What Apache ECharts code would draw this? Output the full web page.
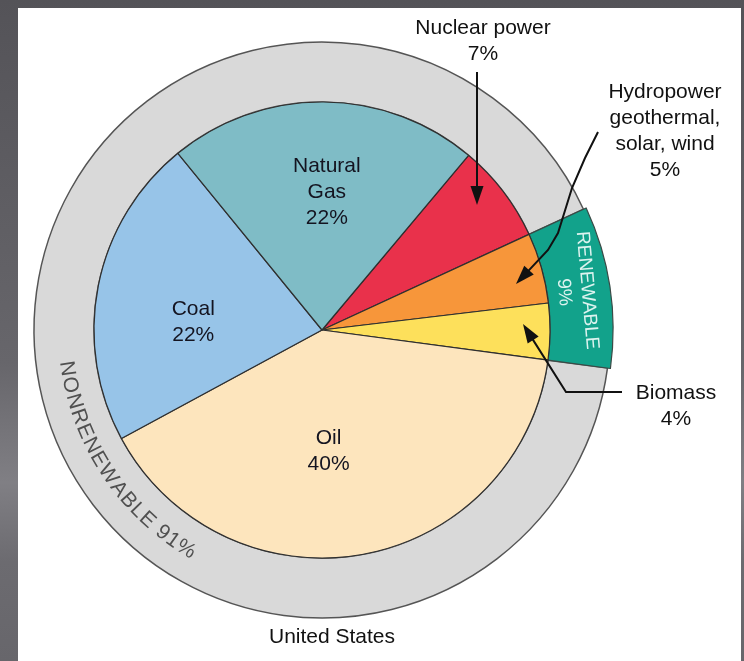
<!DOCTYPE html>
<html>
<head>
<meta charset="utf-8">
<script src="https://cdn.jsdelivr.net/npm/echarts@6/dist/echarts.min.js"></script>
<style>
html,body{margin:0;padding:0;width:744px;height:661px;overflow:hidden;}
body{background:linear-gradient(to bottom,#545358 0%,#67666b 55%,#807f84 73%,#6c6b70 85%,#67666b 100%);}
#chart{position:absolute;left:18px;top:8px;width:723px;height:653px;background:#ffffff;}
</style>
</head>
<body>
<div id="chart"></div>
<script>
// ---------------- data ----------------
const categories = ['Nuclear power', 'Hydropower\ngeothermal,\nsolar, wind', 'Biomass', 'Oil', 'Coal', 'Natural\nGas'];
const values = [7, 5, 4, 40, 22, 22];
const groupNames = ['RENEWABLE', 'NONRENEWABLE'];
const groupValues = [9, 91];
const chartTitle = 'United States';

// ---------------- styles / layout ----------------
const sliceColors = ['#e9314b', '#f7963a', '#fde05b', '#fde5bd', '#97c4e8', '#7fbcc6'];
const insideLabel = [false, false, false, true, true, true];
const labelPadX = [null, null, null, [0, 29, 0, 0], [0, 28, 0, 0], [0, 0, 0, 8]];
const spacerTop = [0, 0, 0, 12, 30, 0];
const spacerBottom = [0, 0, 0, 0, 0, 42];
const OX = 18, OY = 8;            // chart div offset in page
const CX = 322, CY = 330;         // pie centre (page coords)
const R_PIE = 228, R_RING = 288, R_REN = 291;
const START = 50;
const FONT = '"Liberation Sans", Arial, Helvetica, sans-serif';
const TXT = '#111111';

const chart = echarts.init(document.getElementById('chart'), null, {renderer: 'canvas'});

const total = values.reduce((a, b) => a + b, 0);
const ringStart = START - values[0] / total * 360; // renewable begins after nuclear

const pieData = categories.map((name, i) => {
  if (!insideLabel[i]) {
    return {name: name, value: values[i], itemStyle: {color: sliceColors[i]}, label: {show: false}};
  }
  const rich = {};
  let pre = '', post = '';
  if (spacerTop[i]) { rich.t = {lineHeight: spacerTop[i], fontSize: 1}; pre = '{t| }\n'; }
  if (spacerBottom[i]) { rich.b = {lineHeight: spacerBottom[i], fontSize: 1}; post = '\n{b| }'; }
  return {
    name: name, value: values[i], itemStyle: {color: sliceColors[i]},
    label: {show: true, padding: labelPadX[i], rich: rich,
      formatter: pre + name + '\n' + values[i] + '%' + post}
  };
});

const transparent = {color: 'rgba(0,0,0,0)', borderWidth: 0};

// ---------------- annotations ----------------
const px = (x) => x - OX, py = (y) => y - OY;
const graphics = [];
const GZ = 50;

function arrow(points) {
  const pts = points.map(p => [px(p[0]), py(p[1])]);
  const T = pts[pts.length - 1], P = pts[pts.length - 2];
  const dx = T[0] - P[0], dy = T[1] - P[1];
  const len = Math.hypot(dx, dy);
  const ux = dx / len, uy = dy / len;
  const L = 19, W = 6.5;
  const bx = T[0] - ux * L, by = T[1] - uy * L;
  const linePts = pts.slice(0, -1).concat([[bx + ux * 2, by + uy * 2]]);
  graphics.push({type: 'polyline', silent: true, z: GZ, shape: {points: linePts},
    style: {stroke: '#111', lineWidth: 2, fill: null}});
  graphics.push({type: 'polygon', silent: true, z: GZ,
    shape: {points: [T, [bx - uy * W, by + ux * W], [bx + uy * W, by - ux * W]]},
    style: {fill: '#111'}});
}

function callout(text, x, y) {
  graphics.push({type: 'text', silent: true, z: GZ, x: px(x), y: py(y),
    style: {text: text, font: '21px ' + FONT, fill: TXT, textAlign: 'center',
      textVerticalAlign: 'middle', lineHeight: 26}});
}

callout(categories[0] + '\n' + values[0] + '%', 483, 41);
arrow([[477, 72], [477, 205]]);
callout(categories[1] + '\n' + values[1] + '%', 665, 131);
arrow([[598, 132], [585, 158], [572, 188], [558, 233], [548, 250], [516, 284]]);
callout(categories[2] + '\n' + values[2] + '%', 676, 406);
arrow([[622, 392], [566, 392], [523, 324]]);

// title
graphics.push({type: 'text', silent: true, z: GZ, x: px(332), y: py(637),
  style: {text: chartTitle, font: '21px ' + FONT, fill: TXT, textAlign: 'center', textVerticalAlign: 'middle'}});

// curved NONRENEWABLE text
(function () {
  const txt = groupNames[1] + ' ' + groupValues[1] + '%';
  const font = '21px ' + FONT;
  const cv = document.createElement('canvas').getContext('2d');
  cv.font = font;
  const widths = [...txt].map(c => cv.measureText(c).width);
  const centers = [];
  let acc = 0;
  widths.forEach(w => { centers.push(acc + w / 2); acc += w; });
  const a0 = 188.6, a1 = 238.2, r = 258;
  const c0 = centers[0], cN = centers[centers.length - 1];
  [...txt].forEach((ch, i) => {
    const t = (centers[i] - c0) / (cN - c0);
    const th = (a0 + (a1 - a0) * t) * Math.PI / 180;
    const x = CX + r * Math.cos(th), y = CY - r * Math.sin(th);
    graphics.push({type: 'text', silent: true, z: GZ, x: px(x), y: py(y), rotation: th + Math.PI / 2,
      style: {text: ch, font: font, fill: '#505050', textAlign: 'center', textVerticalAlign: 'middle'}});
  });
})();

const option = {
  animation: false,
  backgroundColor: '#ffffff',
  series: [
    {
      type: 'pie', silent: true, z: 1,
      center: [CX - OX, CY - OY], radius: [R_PIE, R_RING],
      startAngle: ringStart, clockwise: true, avoidLabelOverlap: false,
      label: {show: false}, labelLine: {show: false},
      emphasis: {disabled: true},
      data: [
        {name: groupNames[0], value: groupValues[0], itemStyle: transparent},
        {name: groupNames[1], value: groupValues[1], itemStyle: {color: '#d9d9d9', borderColor: '#555', borderWidth: 1.5}}
      ]
    },
    {
      type: 'pie', silent: true, z: 2,
      center: [CX - OX, CY - OY], radius: [R_PIE, R_REN],
      startAngle: ringStart, clockwise: true, avoidLabelOverlap: false,
      labelLine: {show: false},
      emphasis: {disabled: true},
      data: [
        {name: groupNames[0], value: groupValues[0],
          itemStyle: {color: '#12a28b', borderColor: '#3a4a46', borderWidth: 1.2},
          label: {show: true, position: 'inside', rotate: -85,
            formatter: '{t| }\n{b}\n{c}%',
            rich: {t: {lineHeight: 12, fontSize: 1}},
            fontFamily: FONT, fontSize: 19, lineHeight: 23, color: '#dcf3ef'}},
        {name: groupNames[1], value: groupValues[1], itemStyle: transparent, label: {show: false}}
      ]
    },
    {
      type: 'pie', silent: true, z: 3,
      center: [CX - OX, CY - OY], radius: [0, R_PIE],
      startAngle: START, clockwise: true, avoidLabelOverlap: false,
      itemStyle: {borderColor: '#2f2f2f', borderWidth: 1.2},
      label: {position: 'inside',
        fontFamily: FONT, fontSize: 21, lineHeight: 26, color: '#141420'},
      labelLine: {show: false},
      emphasis: {disabled: true},
      data: pieData
    }
  ],
  graphic: {elements: graphics}
};
chart.setOption(option);
</script>
</body>
</html>
